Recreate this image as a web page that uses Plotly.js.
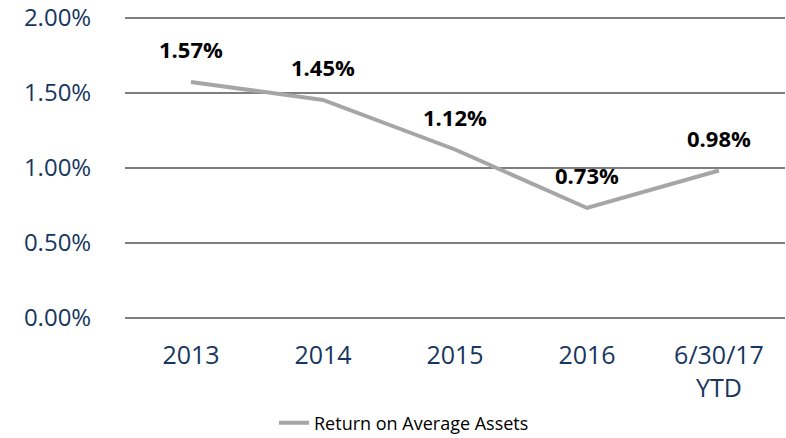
<!DOCTYPE html>
<html>
<head>
<meta charset="utf-8">
<script src="https://cdn.plot.ly/plotly-3.0.1.min.js"></script>
<style>html,body{margin:0;padding:0;background:#fff;}#chart{width:786px;height:438px;}</style>
</head>
<body>
<div id="chart"></div>
<script>
const categories = ["2013", "2014", "2015", "2016", "6/30/17<br>YTD"];
const roaa = [1.57, 1.45, 1.12, 0.73, 0.98];
const labels = ["1.57%", "1.45%", "1.12%", "0.73%", "0.98%"];
const yTicks = [0, 0.5, 1.0, 1.5, 2.0];
const yTickText = ["0.00%", "0.50%", "1.00%", "1.50%", "2.00%"];
const seriesName = "Return on Average Assets";

const font = "'Open Sans', 'Noto Sans', sans-serif";
const xIdx = categories.map((c, i) => i);

const trace = {
  x: xIdx,
  y: roaa,
  type: "scatter",
  mode: "lines",
  name: seriesName,
  line: {color: "#a6a6a6", width: 4},
  showlegend: true
};

const annotations = xIdx.map((x, i) => ({
  x: x, y: roaa[i], xref: "x", yref: "y",
  text: "<b>" + labels[i] + "</b>",
  showarrow: false, yshift: 33,
  font: {family: font, size: 22, color: "#000"}
}));

const layout = {
  width: 786, height: 438,
  margin: {l: 125, r: 1, t: 16, b: 119, autoexpand: false},
  paper_bgcolor: "#fff", plot_bgcolor: "#fff",
  font: {family: font},
  xaxis: {
    automargin: false,
    range: [-0.5, categories.length - 0.5],
    tickvals: xIdx, ticktext: categories,
    showgrid: false, zeroline: false, showline: false,
    ticks: "outside", ticklen: 14, tickcolor: "rgba(0,0,0,0)",
    ticklabeloverflow: "allow",
    tickfont: {family: font, size: 25, color: "#17375e"}
  },
  yaxis: {
    automargin: false,
    range: [-0.01, 2.01],
    tickvals: yTicks, ticktext: yTickText,
    showgrid: true, gridcolor: "#7f7f7f", gridwidth: 2,
    zeroline: false, showline: false,
    ticks: "outside", ticklen: 28, tickcolor: "rgba(0,0,0,0)",
    ticklabeloverflow: "allow",
    tickfont: {family: font, size: 24, color: "#17375e"}
  },
  legend: {
    orientation: "h",
    xref: "container", yref: "container",
    x: 0.514, xanchor: "center", y: 0.034, yanchor: "middle",
    font: {family: font, size: 18, color: "#000"},
    bgcolor: "rgba(0,0,0,0)"
  },
  annotations: annotations
};

Plotly.newPlot("chart", [trace], layout, {displayModeBar: false, staticPlot: true});
</script>
</body>
</html>
